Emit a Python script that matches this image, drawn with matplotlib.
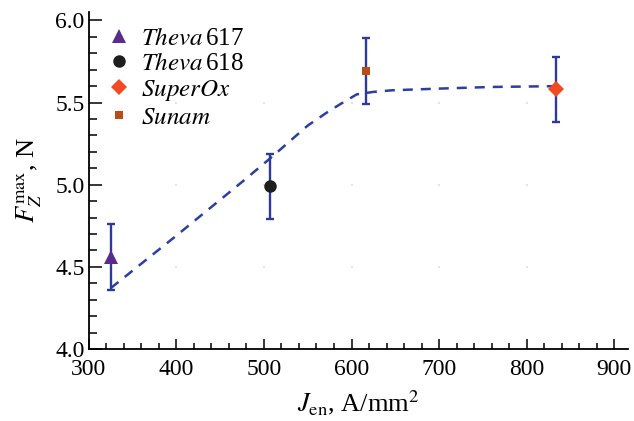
import matplotlib
matplotlib.use("Agg")
import matplotlib.pyplot as plt
import numpy as np
from matplotlib.ticker import MultipleLocator

plt.rcParams["font.family"] = ["Liberation Serif", "DejaVu Serif"]
plt.rcParams["mathtext.fontset"] = "stix"

# measured samples
labels = [r"$\mathit{Theva}\,$617", r"$\mathit{Theva}\,$618", r"$\mathit{SuperOx}$", r"$\mathit{Sunam}$"]
j_en = [325, 507, 834, 616]
force = [4.56, 4.99, 5.58, 5.69]
force_err = [0.20, 0.20, 0.20, 0.20]
markers = ["^", "o", "D", "s"]
colors = ["#5b2a91", "#1e1e1e", "#f24a22", "#b94c17"]
sizes = [10, 9, 8, 6]

# fitted trend (dashed)
trend_x = [325, 400, 478, 507, 550, 572, 587, 606, 625, 647, 700, 760, 834]
trend_y = [4.37, 4.69, 5.03, 5.16, 5.36, 5.44, 5.49, 5.55, 5.565, 5.575, 5.585, 5.595, 5.60]

fig = plt.figure(figsize=(6.34, 4.21), dpi=100)
ax = fig.add_axes([0.140, 0.171, 0.851, 0.800])

ax.plot(trend_x, trend_y, ls=(0, (4, 3.2)), color="#2b3ea3", lw=1.8, zorder=2)

for x, y, e, m, c, s, lab in zip(j_en, force, force_err, markers, colors, sizes, labels):
    ax.errorbar(x, y, yerr=e, fmt="none", ecolor="#2e3a9a", elinewidth=1.7,
                capsize=3, capthick=1.7, zorder=3)
    ax.plot(x, y, ls="none", marker=m, color=c, markersize=s, markeredgewidth=0,
            zorder=4, label=lab)

ax.set_xlim(300, 916)
ax.set_ylim(4.0, 6.05)
ax.xaxis.set_major_locator(MultipleLocator(100))
ax.xaxis.set_minor_locator(MultipleLocator(20))
ax.yaxis.set_major_locator(MultipleLocator(0.5))
ax.yaxis.set_minor_locator(MultipleLocator(0.1))
ax.yaxis.set_major_formatter(matplotlib.ticker.FormatStrFormatter("%.1f"))

# faint dots at inner grid intersections
gx, gy = np.meshgrid(np.arange(400, 801, 100), [4.5, 5.0, 5.5])
ax.scatter(gx.ravel(), gy.ravel(), s=2, color="#e2e2e2", marker="s", lw=0, zorder=1)

for side in ["top", "right"]:
    ax.spines[side].set_visible(False)
for side in ["left", "bottom"]:
    ax.spines[side].set_linewidth(1.3)

ax.tick_params(axis="both", which="both", direction="in", labelsize=17, width=1.1)
ax.tick_params(axis="x", which="major", length=7, pad=7)
ax.tick_params(axis="x", which="minor", length=4)
ax.tick_params(axis="y", which="major", length=9, pad=3)
ax.tick_params(axis="y", which="minor", length=6)

ax.set_xlabel(r"$J_{\rm en}$, A/mm$^2$", fontsize=19, labelpad=6)
ax.set_ylabel(r"$F_Z^{\rm max}$, N", fontsize=19, labelpad=8)

ax.legend(loc="upper left", frameon=False, fontsize=18, handletextpad=0.3,
          borderaxespad=0.2, labelspacing=0.12, handlelength=1.2,
          bbox_to_anchor=(0.0, 1.0))

fig.savefig("out.png", dpi=100)
